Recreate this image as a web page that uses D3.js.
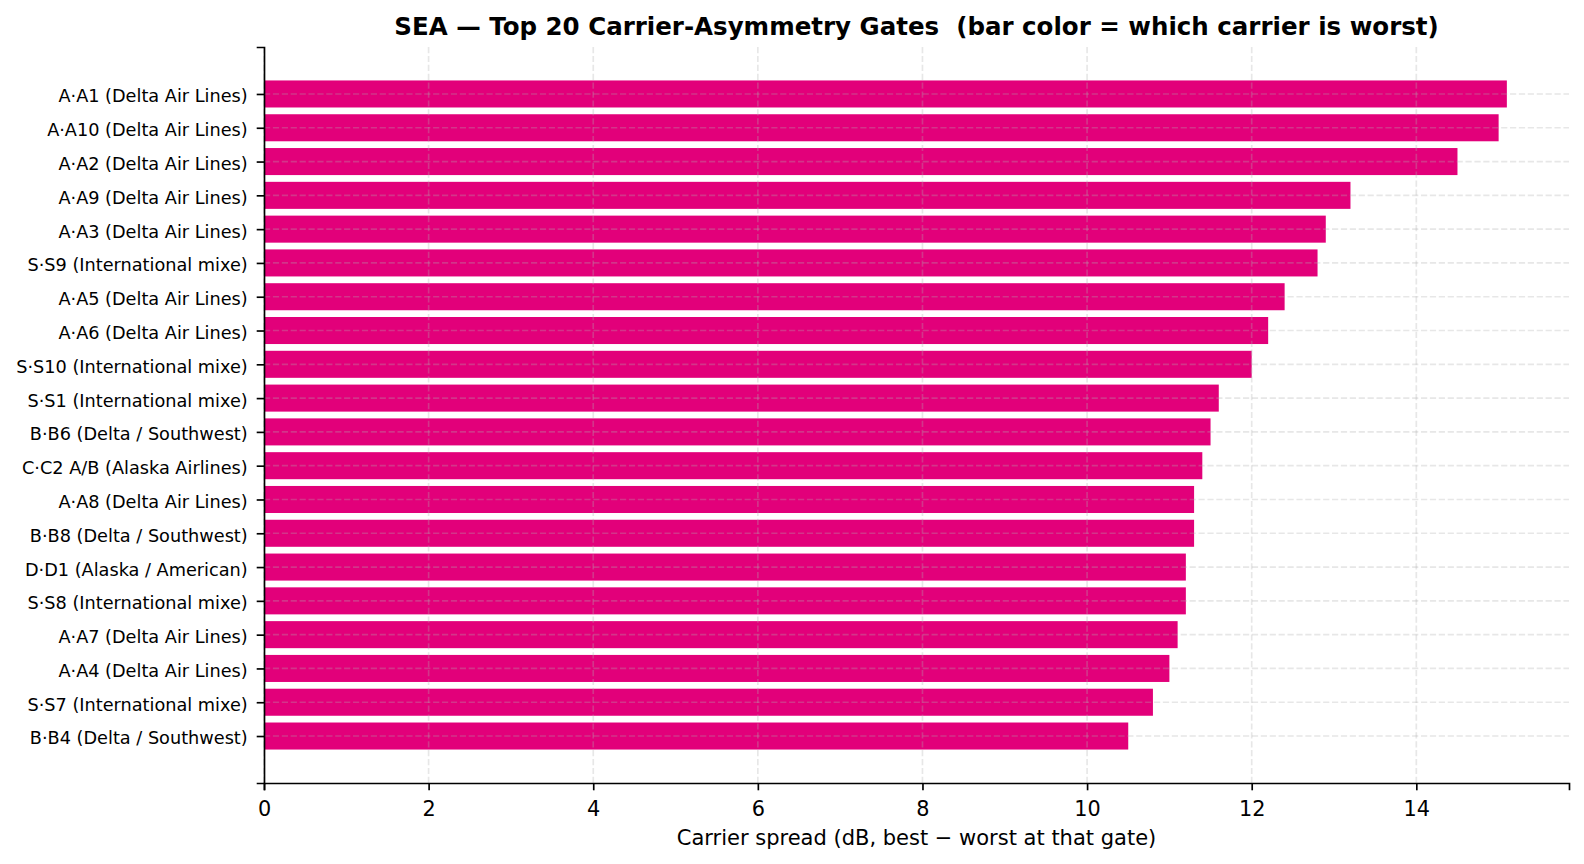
<!DOCTYPE html>
<html>
<head>
<meta charset="utf-8">
<script src="https://cdn.jsdelivr.net/npm/d3@7"></script>
<style>
  body { margin: 0; background: #fff; }
  text { font-family: "DejaVu Sans", sans-serif; fill: #000; }
</style>
</head>
<body>
<div id="chart-container"></div>
<script>
// Gate labels, top to bottom
const gates = [
  "A·A1 (Delta Air Lines)", "A·A10 (Delta Air Lines)", "A·A2 (Delta Air Lines)",
  "A·A9 (Delta Air Lines)", "A·A3 (Delta Air Lines)", "S·S9 (International mixe)",
  "A·A5 (Delta Air Lines)", "A·A6 (Delta Air Lines)", "S·S10 (International mixe)",
  "S·S1 (International mixe)", "B·B6 (Delta / Southwest)", "C·C2 A/B (Alaska Airlines)",
  "A·A8 (Delta Air Lines)", "B·B8 (Delta / Southwest)", "D·D1 (Alaska / American)",
  "S·S8 (International mixe)", "A·A7 (Delta Air Lines)", "A·A4 (Delta Air Lines)",
  "S·S7 (International mixe)", "B·B4 (Delta / Southwest)"
];
// Carrier spread in dB
const spread = [15.1, 15.0, 14.5, 13.2, 12.9, 12.8, 12.4, 12.2, 12.0, 11.6,
                11.5, 11.4, 11.3, 11.3, 11.2, 11.2, 11.1, 11.0, 10.8, 10.5];
const xTicks = [0, 2, 4, 6, 8, 10, 12, 14];

const data = gates.map((g, i) => ({ gate: g, value: spread[i] }));

const W = 1584, H = 864;
const margin = { top: 47, right: 15, bottom: 81, left: 264 };
const width = W - margin.left - margin.right;
const height = H - margin.top - margin.bottom;

const svg = d3.select("#chart-container")
  .append("svg")
  .attr("width", W)
  .attr("height", H);

const g = svg.append("g")
  .attr("transform", `translate(${margin.left},${margin.top})`);

// x scale, matplotlib-like 5% margin on the right
const xMax = d3.max(spread) * 1.05;
const x = d3.scaleLinear().domain([0, xMax]).range([0, width]);

// y: index positions with bar height 0.8 and 5% padding
const n = gates.length;
const lo = -0.4, hi = n - 1 + 0.4, pad = (hi - lo) * 0.05;
const y = d3.scaleLinear().domain([lo - pad, hi + pad]).range([0, height]);

// bars
g.selectAll(".bar")
  .data(data)
  .enter()
  .append("rect")
  .attr("class", "bar")
  .attr("x", x(0))
  .attr("y", (d, i) => y(i - 0.4))
  .attr("width", (d) => x(d.value) - x(0))
  .attr("height", y(0.4) - y(-0.4))
  .attr("fill", "#e2007a");

// grid on top, dashed and faint
const grid = g.append("g").attr("class", "grid");
grid.selectAll(".vgrid")
  .data(xTicks)
  .enter()
  .append("line")
  .attr("x1", (d) => x(d)).attr("x2", (d) => x(d))
  .attr("y1", 0).attr("y2", height)
  .attr("stroke", "#b0b0b0")
  .attr("stroke-opacity", 0.3)
  .attr("stroke-width", 1.67)
  .attr("stroke-dasharray", "6.2,2.7");
grid.selectAll(".hgrid")
  .data(data)
  .enter()
  .append("line")
  .attr("x1", 0).attr("x2", width)
  .attr("y1", (d, i) => y(i)).attr("y2", (d, i) => y(i))
  .attr("stroke", "#b0b0b0")
  .attr("stroke-opacity", 0.3)
  .attr("stroke-width", 1.67)
  .attr("stroke-dasharray", "6.2,2.7");

// x axis
const xAxis = g.append("g")
  .attr("transform", `translate(0,${height})`)
  .call(d3.axisBottom(x).tickValues(xTicks).tickFormat(d3.format("d")).tickSizeOuter(0).tickSize(7.3).tickPadding(7.3));
xAxis.select(".domain").attr("stroke", "#000").attr("stroke-width", 1.67);
xAxis.selectAll(".tick line").attr("stroke", "#000").attr("stroke-width", 1.67);
xAxis.selectAll("text")
  .style("font-size", "20.8px")
  .attr("fill", "#000")
  .attr("y", 33)
  .attr("dy", 0);

// y axis
const yAxis = g.append("g")
  .call(d3.axisLeft(y).tickValues(d3.range(n)).tickFormat((i) => gates[i]).tickSizeOuter(0).tickSize(7.3).tickPadding(9));
yAxis.select(".domain").attr("stroke", "#000").attr("stroke-width", 1.67);
yAxis.selectAll(".tick line").attr("stroke", "#000").attr("stroke-width", 1.67);
yAxis.selectAll("text")
  .style("font-size", "17.7px")
  .attr("fill", "#000")
  .attr("dy", "0.45em");

// axis label
svg.append("text")
  .attr("x", margin.left + width / 2)
  .attr("y", 845)
  .attr("text-anchor", "middle")
  .style("font-size", "21px")
  .text("Carrier spread (dB, best − worst at that gate)");

// title
svg.append("text")
  .attr("x", margin.left + width / 2)
  .attr("y", 35)
  .attr("text-anchor", "middle")
  .style("font-size", "24.5px")
  .style("font-weight", "bold")
  .style("white-space", "pre")
  .attr("xml:space", "preserve")
  .text("SEA — Top 20 Carrier-Asymmetry Gates  (bar color = which carrier is worst)");
</script>
</body>
</html>
